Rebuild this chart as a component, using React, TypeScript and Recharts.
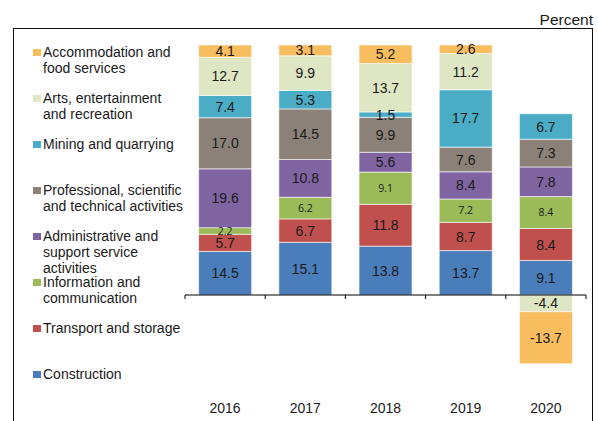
import React from 'react';
import { BarChart, Bar, XAxis, YAxis, ReferenceLine, LabelList } from 'recharts';

const years = ['2016', '2017', '2018', '2019', '2020'];
const construction = [14.5, 15.1, 13.8, 13.7, 9.1];
const transport = [5.7, 6.7, 11.8, 8.7, 8.4];
const information = [2.2, 6.2, 9.1, 7.2, 8.4];
const administrative = [19.6, 10.8, 5.6, 8.4, 7.8];
const professional = [17.0, 14.5, 9.9, 7.6, 7.3];
const mining = [7.4, 5.3, 1.5, 17.7, 6.7];
const arts = [12.7, 9.9, 13.7, 11.2, -4.4];
const accommodation = [4.1, 3.1, 5.2, 2.6, -13.7];

const seriesKeys = ['construction', 'transport', 'information', 'administrative', 'professional', 'mining', 'arts', 'accommodation'];
const seriesValues = [construction, transport, information, administrative, professional, mining, arts, accommodation];
const seriesNames = [
  'Construction',
  'Transport and storage',
  'Information and\ncommunication',
  'Administrative and\nsupport service\nactivities',
  'Professional, scientific\nand technical activities',
  'Mining and quarrying',
  'Arts, entertainment\nand recreation',
  'Accommodation and\nfood services',
];
const seriesColors = ['#4A7EBB', '#C0504D', '#9BBB59', '#8064A2', '#8B8178', '#4BACC6', '#DEE6C3', '#F8BD5E'];
const smallLabelSeries = ['information'];

const data = years.map((year, i) => {
  const total = seriesValues.reduce((s, arr) => s + Math.abs(arr[i]), 0);
  const row: any = { year };
  seriesKeys.forEach((k, j) => {
    row[k] = (seriesValues[j][i] / total) * 100;
    row[k + 'Raw'] = seriesValues[j][i];
  });
  return row;
});

const FONT = '"Liberation Sans", Arial, Helvetica, sans-serif';

const makeLabel = (small: boolean) => (props: any) => {
  const { x, y, width, height, value } = props;
  if (value === null || value === undefined) return null;
  const cy = Number(y) + Number(height) / 2;
  return (
    <text
      x={Number(x) + Number(width) / 2}
      y={cy}
      dy="0.36em"
      textAnchor="middle"
      fontFamily={small ? '"Open Sans", sans-serif' : FONT}
      fontSize={small ? 10.5 : 14}
      fill="#1a1a1a"
    >
      {Number(value).toFixed(1)}
    </text>
  );
};

const AxisAtZero = (props: any) => {
  const { x1, x2, y1 } = props;
  const n = years.length;
  const step = (x2 - x1) / n;
  const ticks = [];
  for (let i = 0; i <= n; i++) {
    const tx = x1 + step * i;
    ticks.push(<line key={i} x1={tx} x2={tx} y1={y1} y2={y1 + 4} stroke="#000" strokeWidth={1} />);
  }
  return (
    <g>
      <line x1={x1} x2={x2} y1={y1} y2={y1} stroke="#000" strokeWidth={1} />
      {ticks}
    </g>
  );
};

export default function App() {
  const legendOrder = [...seriesKeys.keys()].reverse();
  return (
    <div style={{ position: 'absolute', left: 0, top: 0, width: 598, height: 421, background: '#fff', overflow: 'hidden' }}>
      <div
        style={{
          position: 'absolute',
          left: 13,
          top: 28,
          width: 578,
          height: 420,
          borderTop: '1px solid #111',
          borderLeft: '1px solid #111',
          borderRight: '1px solid #111',
        }}
      />
      <div
        style={{
          position: 'absolute',
          right: 5,
          top: 10,
          fontFamily: FONT,
          fontSize: 15.5,
          color: '#1a1a1a',
          lineHeight: '20px',
        }}
      >
        Percent
      </div>
      <div style={{ position: 'absolute', left: 0, top: 0 }}>
        <BarChart
          width={598}
          height={421}
          data={data}
          stackOffset="sign"
          barCategoryGap="17%"
          margin={{ top: 45, right: 12, bottom: 6, left: 185 }}
        >
          <XAxis
            dataKey="year"
            axisLine={false}
            tickLine={false}
            height={20}
            interval={0}
            tick={{ fontSize: 14, fill: '#1a1a1a', fontFamily: FONT }}
          />
          <YAxis hide type="number" domain={[-40, 100]} allowDataOverflow />
          {seriesKeys.map((k, j) => (
            <Bar
              key={k}
              dataKey={k}
              name={seriesNames[j]}
              stackId="a"
              fill={seriesColors[j]}
              stroke="#ffffff"
              strokeWidth={0.6}
              isAnimationActive={false}
            >
              <LabelList dataKey={k + 'Raw'} content={makeLabel(smallLabelSeries.includes(k))} />
            </Bar>
          ))}
          <ReferenceLine y={0} shape={AxisAtZero} />
        </BarChart>
      </div>
      <div style={{ position: 'absolute', left: 33, top: 44, width: 150, fontFamily: FONT, fontSize: 14, color: '#1a1a1a' }}>
        {legendOrder.map((j) => (
          <div key={seriesKeys[j]} style={{ position: 'relative', height: 46, lineHeight: '16px' }}>
            <div style={{ position: 'absolute', left: 0, top: 4.5, width: 7.5, height: 7.5, background: seriesColors[j] }} />
            <div style={{ position: 'absolute', left: 10, top: 0, whiteSpace: 'pre' }}>{seriesNames[j]}</div>
          </div>
        ))}
      </div>
    </div>
  );
}
